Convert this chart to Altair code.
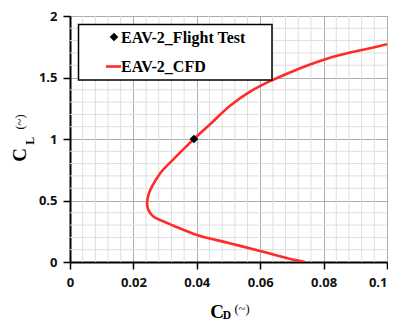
import altair as alt
import pandas as pd

# CFD drag polar
cd_cfd = [0.1, 0.0946, 0.0883, 0.082, 0.0757, 0.0694, 0.0631, 0.0568, 0.0505, 0.0442,
          0.0391, 0.0363, 0.0326, 0.0284, 0.0258, 0.0248, 0.0243, 0.0248, 0.0262, 0.0290,
          0.0325, 0.040, 0.050, 0.060, 0.068, 0.0741]
cl_cfd = [1.77, 1.738, 1.703, 1.66, 1.605, 1.541, 1.47, 1.385, 1.27, 1.12,
          1.0, 0.93, 0.835, 0.72, 0.61, 0.55, 0.48, 0.42, 0.372, 0.335,
          0.297, 0.22, 0.155, 0.09, 0.035, 0.0]
# Flight test point
cd_flight = [0.0391]
cl_flight = [1.0]

x_major = [0, 0.02, 0.04, 0.06, 0.08, 0.1]
y_major = [0, 0.5, 1, 1.5, 2]
x_minor = [round(i * 0.004, 3) for i in range(1, 25) if i % 5 != 0]
y_minor = [round(i * 0.1, 1) for i in range(1, 20) if i % 5 != 0]

RED = "#ff2b2b"
W, H = 317, 246

cfd = pd.DataFrame({"cd": cd_cfd, "cl": cl_cfd, "i": list(range(len(cd_cfd)))})
flt = pd.DataFrame({"cd": cd_flight, "cl": cl_flight})

xs = alt.Scale(domain=[0, 0.1], nice=False)
ys = alt.Scale(domain=[0, 2], nice=False)

xaxis = alt.Axis(values=x_major, format="~g", grid=True, gridColor="#adadad", gridWidth=1,
                 domainColor="black", domainWidth=2, tickColor="black", tickSize=7, tickWidth=1.5,
                 labelFont="Open Sans", labelFontWeight="bold", labelFontSize=13, labelColor="#111",
                 labelPadding=7, labelFlush=False,
                 labelAlign=alt.ExprRef(expr="datum.value >= 0.1 ? 'right' : 'center'"),
                 title=None)
yaxis = alt.Axis(values=y_major, format="~g", grid=True, gridColor="#adadad", gridWidth=1,
                 domainColor="black", domainWidth=2, tickColor="black", tickSize=7, tickWidth=1.5,
                 labelFont="Open Sans", labelFontWeight="bold", labelFontSize=13, labelColor="#111",
                 labelPadding=6, title=None)

minor_x = alt.Chart(pd.DataFrame({"v": x_minor})).mark_rule(color="#dedede", strokeWidth=1).encode(
    x=alt.X("v:Q", scale=xs, axis=xaxis))
minor_y = alt.Chart(pd.DataFrame({"v": y_minor})).mark_rule(color="#dedede", strokeWidth=1).encode(
    y=alt.Y("v:Q", scale=ys, axis=yaxis))

line = alt.Chart(cfd).mark_line(color=RED, strokeWidth=2.6, interpolate="catmull-rom", clip=True).encode(
    x=alt.X("cd:Q", scale=xs, axis=xaxis),
    y=alt.Y("cl:Q", scale=ys, axis=yaxis),
    order="i:Q")

pts = alt.Chart(flt).mark_point(shape="diamond", filled=True, color="black", size=75, opacity=1).encode(
    x=alt.X("cd:Q", scale=xs, axis=xaxis),
    y=alt.Y("cl:Q", scale=ys, axis=yaxis))

one = pd.DataFrame({"a": [0]})

box = alt.Chart(one).mark_rect(fill="white", stroke="black", strokeWidth=1.5).encode(
    x=alt.value(8.5), x2=alt.value(202), y=alt.value(8.5), y2=alt.value(64))
leg_pt = alt.Chart(one).mark_point(shape="diamond", filled=True, color="black", size=75, opacity=1).encode(
    x=alt.value(44), y=alt.value(21))
leg_ln = alt.Chart(one).mark_rule(color=RED, strokeWidth=2.6).encode(
    x=alt.value(36), x2=alt.value(51), y=alt.value(50.5))


def txt(s, x, y, size, weight="bold", angle=0, font="Liberation Serif", align="left"):
    kw = dict(text=s, font=font, fontSize=size, fontWeight=weight, align=align,
              baseline="middle", color="black")
    if angle:
        kw["angle"] = angle
    return alt.Chart(one).mark_text(**kw).encode(x=alt.value(x), y=alt.value(y))


leg_t1 = txt("EAV-2_Flight Test", 51, 21.5, 16)
leg_t2 = txt("EAV-2_CFD", 51, 51, 16)

yt_c = txt("C", -50, 139, 19, angle=270, align="center")
yt_l = txt("L", -39, 125, 11.5, angle=270, align="center")
yt_p = txt("(~)", -50, 106, 12.5, weight="normal", angle=270, align="center")

xt_c = txt("C", 147, 296, 19, align="center")
xt_d = txt("D", 157, 299.5, 11.5, align="center")
xt_p = txt("(~)", 172, 293, 12.5, weight="normal", align="center")

chart = alt.layer(minor_x, minor_y, line, pts, box, leg_pt, leg_ln, leg_t1, leg_t2,
                  yt_c, yt_l, yt_p, xt_c, xt_d, xt_p).properties(
    width=W, height=H,
    autosize=alt.AutoSizeParams(type="none"),
    padding={"left": 62, "top": 8, "right": 1, "bottom": 60},
    background="white",
).configure_view(stroke="#8a8a8a", strokeWidth=1)

chart.save("out.html", embed_options={"renderer": "svg", "actions": False})
